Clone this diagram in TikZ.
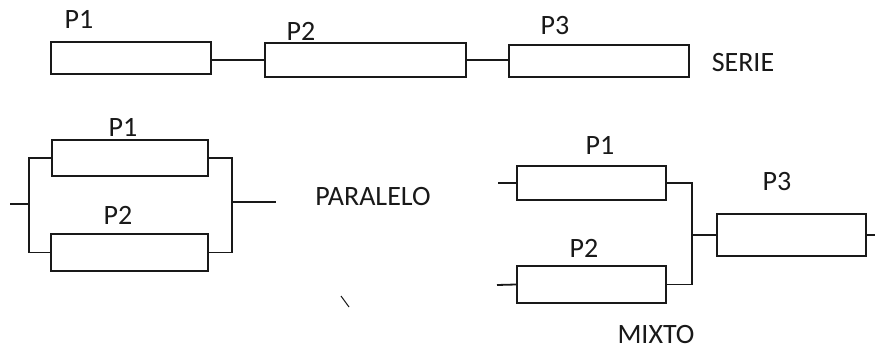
\documentclass[tikz,border=0pt]{standalone}
\usepackage{fontspec}
\setmainfont{Carlito}
\definecolor{ink}{RGB}{25,25,25}
\begin{document}
\begin{tikzpicture}[x=1pt,y=-1pt,
  box/.style={draw=ink, line width=1.8pt, rectangle, inner sep=0pt},
  lbl/.style={inner sep=0pt, text=ink, font=\fontsize{28}{32}\selectfont},
  wire/.style={draw=ink, line width=1.8pt}]
\useasboundingbox[fill=white] (0,0) rectangle (875,350);
% SERIE
\node[box, minimum width=160pt, minimum height=32pt] (s1) at (131,58) {};
\node[box, minimum width=201pt, minimum height=34pt] (s2) at (365.5,60) {};
\node[box, minimum width=180pt, minimum height=32pt] (s3) at (599,61) {};
\node[lbl] (ls1) at (79,19) {P1};
\node[lbl] (ls2) at (301,31) {P2};
\node[lbl] (ls3) at (555,26) {P3};
\node[lbl] (tserie) at (743,63) {SERIE};
\draw[wire] (s1.east |- s2.west) -- (s2.west);
\draw[wire] (s2.east) -- (s3.west |- s2.east);
% PARALELO
\node[box, minimum width=156pt, minimum height=36pt] (p1) at (130,158) {};
\node[box, minimum width=157pt, minimum height=37pt] (p2) at (129.5,252.5) {};
\node[lbl] (lp1) at (123,127) {P1};
\node[lbl] (lp2) at (118,215) {P2};
\node[lbl] (tpar) at (373,197) {PARALELO};
\coordinate (pL) at (29,204);
\coordinate (pin) at (10,204);
\coordinate (pR) at (232,202);
\coordinate (pout) at (276,202);
\draw[wire] (p1.west) -| (pL) |- (p2.west);
\draw[wire] (pin) -- (pL);
\draw[wire] (p1.east) -| (pR) |- (p2.east);
\draw[wire] (pR) -- (pout);
% MIXTO
\node[box, minimum width=149pt, minimum height=34pt] (m1) at (591.5,183) {};
\node[box, minimum width=149pt, minimum height=37pt] (m2) at (591.5,284.5) {};
\node[box, minimum width=149pt, minimum height=42pt] (m3) at (791.5,235) {};
\node[lbl] (lm1) at (600,145) {P1};
\node[lbl] (lm2) at (584,248) {P2};
\node[lbl] (lm3) at (777,182) {P3};
\node[lbl] (tmix) at (656,335) {MIXTO};
\coordinate (mJ) at (692,235);
\coordinate (min1) at (498,183);
\coordinate (min2) at (497,285);
\coordinate (mout) at (875,235);
\draw[wire] (m1.east) -| (mJ) |- (m2.east);
\draw[wire] (mJ) -- (m3.west);
\draw[wire] (min1) -- (m1.west);
\draw[wire] (min2) -- (m2.west);
\draw[wire] (m3.east) -- (mout);
% stray mark
\coordinate (k1) at (341,296);
\coordinate (k2) at (349,307);
\draw[draw=ink, line width=1pt] (k1) -- (k2);
\end{tikzpicture}
\end{document}
